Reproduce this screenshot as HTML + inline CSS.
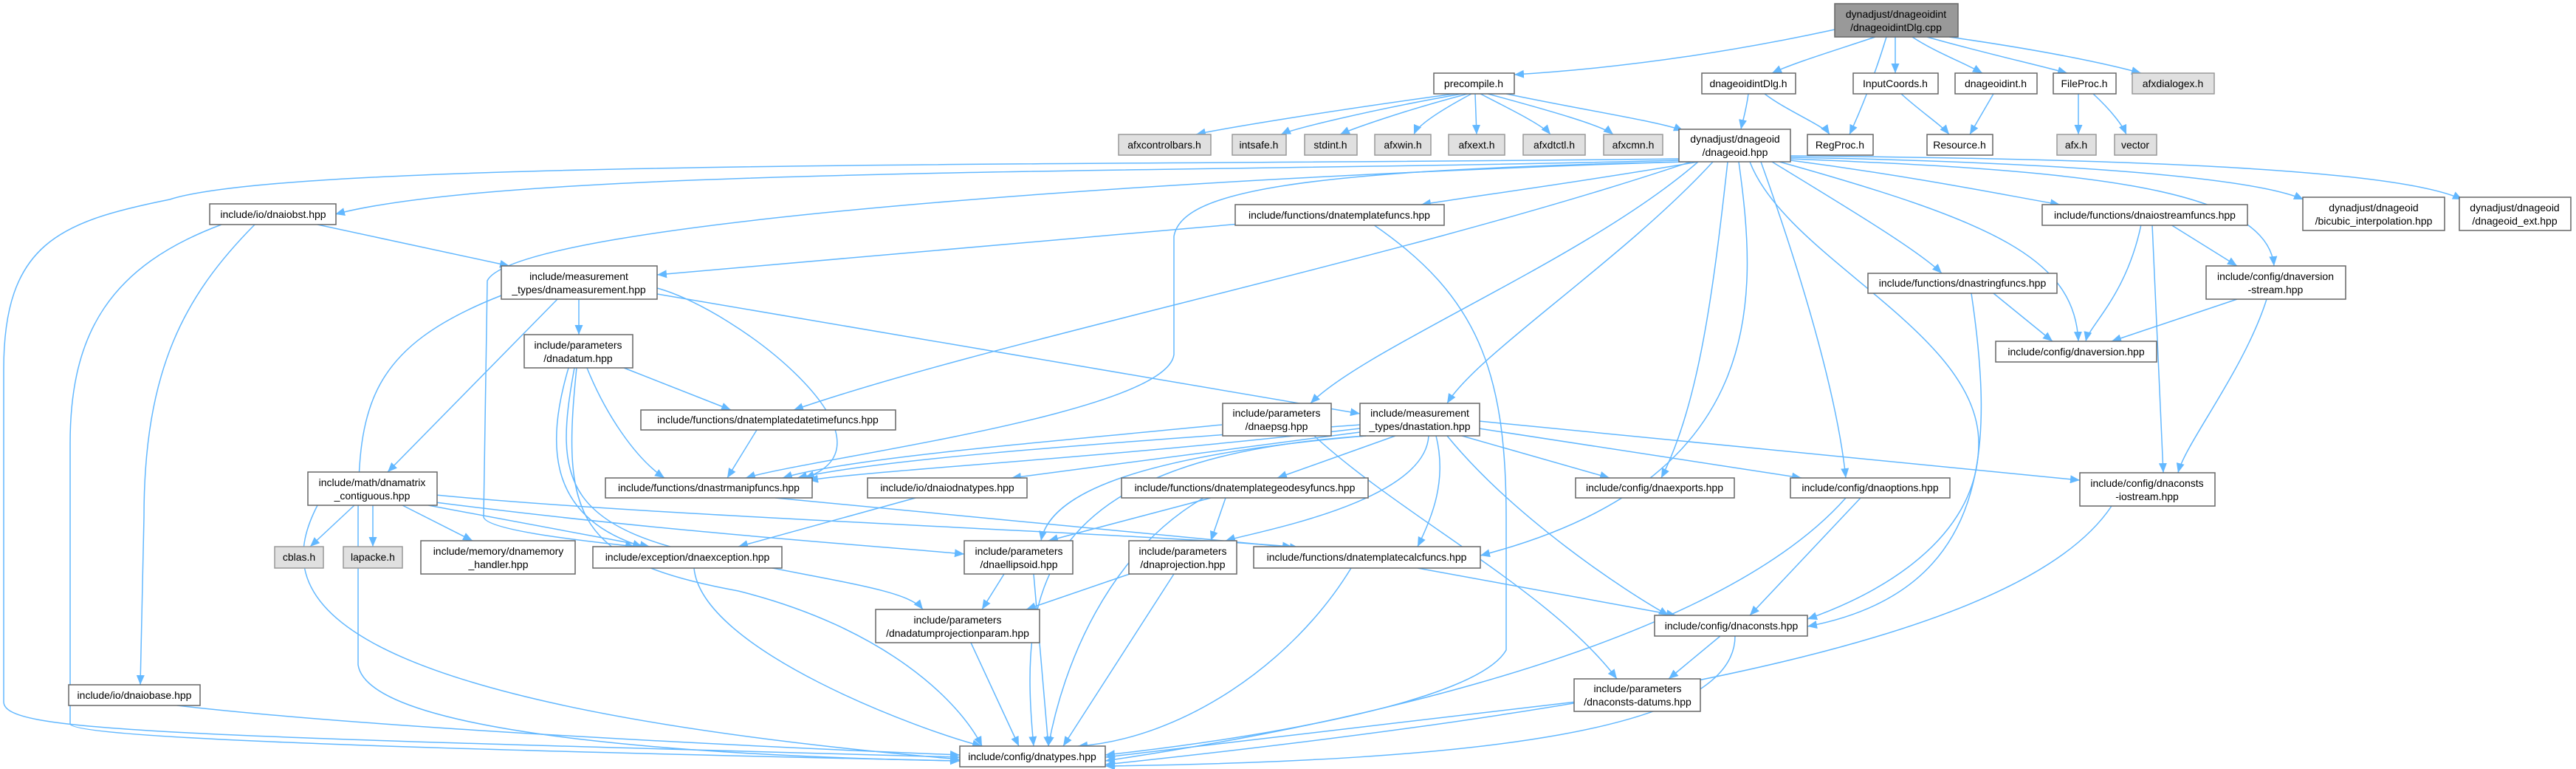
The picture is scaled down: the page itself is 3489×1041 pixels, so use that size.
<!DOCTYPE html>
<html><head><meta charset="utf-8"><style>
html,body{margin:0;padding:0;background:#fff;}
svg{display:block;}
text{font-family:"Liberation Sans",sans-serif;font-size:14px;fill:#000;text-anchor:middle;}
.n{fill:#fff;stroke:#666;stroke-width:1.5;}
.g{fill:#e0e0e0;stroke:#999;stroke-width:1.5;}
.r{fill:#999;stroke:#666;stroke-width:1.5;}
path.e{fill:none;stroke:#63b8ff;stroke-width:1.5;marker-end:url(#a);}
</style></head><body>
<svg width="3489" height="1041" viewBox="0 0 3489 1041" xmlns="http://www.w3.org/2000/svg">
<defs><marker id="a" markerUnits="userSpaceOnUse" markerWidth="14" markerHeight="11" refX="13" refY="5.5" orient="auto"><path d="M0,0 L13,5.5 L0,11 z" fill="#63b8ff"/></marker></defs>
<g>
<path class="e" d="M2485,40 C2300,80 2150,95 2051,101"/>
<path class="e" d="M2540,50 C2480,70 2430,85 2400,99"/>
<path class="e" d="M2555,50 C2540,100 2520,150 2505,182"/>
<path class="e" d="M2567,50 L2567,99"/>
<path class="e" d="M2590,50 C2620,70 2660,85 2685,99"/>
<path class="e" d="M2610,50 C2680,70 2760,88 2800,99"/>
<path class="e" d="M2640,50 C2780,70 2860,88 2900,99"/>
<path class="e" d="M1970,127 C1800,150 1650,175 1620,182"/>
<path class="e" d="M1980,127 C1850,150 1750,175 1735,182"/>
<path class="e" d="M1988,127 C1900,150 1830,175 1815,182"/>
<path class="e" d="M1993,127 C1950,150 1920,170 1915,182"/>
<path class="e" d="M1998,127 L2000,182"/>
<path class="e" d="M2005,127 C2050,150 2090,170 2100,182"/>
<path class="e" d="M2015,127 C2100,150 2170,170 2185,182"/>
<path class="e" d="M2040,127 C2150,150 2250,165 2280,177"/>
<path class="e" d="M2368,127 C2365,150 2360,165 2358,175"/>
<path class="e" d="M2390,127 C2420,150 2470,170 2478,182"/>
<path class="e" d="M2575,127 C2600,150 2630,170 2640,182"/>
<path class="e" d="M2700,127 L2668,182"/>
<path class="e" d="M2815,127 L2815,182"/>
<path class="e" d="M2835,127 C2860,150 2875,170 2880,182"/>
<path class="e" d="M2274,215 C1500,225 400,215 230,270 C80,300 5,330 5,500 L5,950 C5,990 200,995 1300,1025"/>
<path class="e" d="M2274,217 C1600,235 700,225 454,290"/>
<path class="e" d="M2300,219 C2150,245 2000,265 1925,277"/>
<path class="e" d="M2280,219 C1600,240 700,300 660,380 L655,700 C660,720 820,735 860,740"/>
<path class="e" d="M2285,219 C1750,230 1600,260 1590,320 L1590,480 C1580,560 1100,620 1010,647"/>
<path class="e" d="M2290,219 C1900,350 1350,460 1075,555"/>
<path class="e" d="M2300,219 C2150,350 1850,470 1775,546"/>
<path class="e" d="M2320,219 C2200,350 2000,480 1960,546"/>
<path class="e" d="M2340,219 C2320,400 2300,550 2250,647"/>
<path class="e" d="M2355,219 C2380,400 2400,650 2005,752"/>
<path class="e" d="M2370,219 C2420,350 2680,450 2680,600 C2680,750 2500,820 2448,838"/>
<path class="e" d="M2385,219 C2450,400 2490,550 2500,647"/>
<path class="e" d="M2400,219 C2500,280 2600,340 2630,370"/>
<path class="e" d="M2410,219 C2700,300 2810,350 2815,462"/>
<path class="e" d="M2425,217 C2600,240 2720,265 2790,277"/>
<path class="e" d="M2425,215 C2800,230 3070,250 3080,360"/>
<path class="e" d="M2425,213 C2800,220 3050,240 3120,270"/>
<path class="e" d="M2425,211 C2900,215 3250,230 3335,270"/>
<path class="e" d="M430,304 L690,360"/>
<path class="e" d="M300,304 C150,360 95,450 95,600 L95,980 C100,1000 600,1015 1300,1030"/>
<path class="e" d="M345,304 C250,400 195,500 195,700 L190,927"/>
<path class="e" d="M1680,303 L890,372"/>
<path class="e" d="M1860,304 C2000,400 2040,500 2040,700 L2040,880 C2000,950 1700,1000 1497,1022"/>
<path class="e" d="M784,405 L784,453"/>
<path class="e" d="M755,405 L525,639"/>
<path class="e" d="M679,400 C500,470 485,550 485,700 L485,900 C500,1000 1000,1025 1300,1030"/>
<path class="e" d="M890,390 C1000,420 1230,600 1090,647"/>
<path class="e" d="M890,398 L1842,560"/>
<path class="e" d="M845,498 L990,555"/>
<path class="e" d="M795,498 C820,560 860,620 900,647"/>
<path class="e" d="M770,498 C740,600 740,700 870,740"/>
<path class="e" d="M778,498 C750,650 760,720 1000,760 C1150,790 1230,800 1250,825"/>
<path class="e" d="M781,498 C760,700 780,760 1000,800 C1200,850 1300,950 1330,1010"/>
<path class="e" d="M1025,582 L985,647"/>
<path class="e" d="M1655,575 C1400,600 1150,620 1060,647"/>
<path class="e" d="M1780,590 C1900,700 2100,800 2190,919"/>
<path class="e" d="M1842,575 C1500,600 1200,620 1080,647"/>
<path class="e" d="M1842,580 C1500,620 1200,635 1095,650"/>
<path class="e" d="M1842,585 L1370,647"/>
<path class="e" d="M1890,590 L1730,647"/>
<path class="e" d="M1980,590 L2180,647"/>
<path class="e" d="M2003,580 L2440,647"/>
<path class="e" d="M2003,570 L2817,650"/>
<path class="e" d="M1850,590 C1500,620 1420,680 1410,732"/>
<path class="e" d="M1935,590 C1930,680 1700,720 1660,732"/>
<path class="e" d="M1945,590 C1960,650 1940,700 1920,740"/>
<path class="e" d="M1960,590 C2050,700 2200,800 2260,833"/>
<path class="e" d="M1850,590 C1400,620 1380,800 1400,1010"/>
<path class="e" d="M1050,674 L1760,742"/>
<path class="e" d="M1240,674 L1000,740"/>
<path class="e" d="M1640,674 L1420,732"/>
<path class="e" d="M1660,674 L1640,732"/>
<path class="e" d="M1630,674 C1500,750 1440,900 1420,1010"/>
<path class="e" d="M2520,674 L2370,833"/>
<path class="e" d="M2500,674 C2300,900 1700,1000 1497,1030"/>
<path class="e" d="M2860,685 C2750,850 2300,950 1497,1035"/>
<path class="e" d="M3030,405 L2860,462"/>
<path class="e" d="M3070,405 C3040,500 2960,600 2950,640"/>
<path class="e" d="M2900,304 C2880,400 2830,440 2825,462"/>
<path class="e" d="M2940,304 L3030,360"/>
<path class="e" d="M2915,304 L2930,640"/>
<path class="e" d="M2700,397 L2780,462"/>
<path class="e" d="M2670,397 C2700,600 2700,800 2448,848"/>
<path class="e" d="M480,684 L420,740"/>
<path class="e" d="M505,684 L505,740"/>
<path class="e" d="M545,684 L640,732"/>
<path class="e" d="M580,684 L880,740"/>
<path class="e" d="M590,670 C900,700 1500,720 1750,740"/>
<path class="e" d="M590,680 C900,720 1200,740 1306,750"/>
<path class="e" d="M430,684 C370,800 400,950 1300,1028"/>
<path class="e" d="M940,769 C950,880 1250,990 1330,1010"/>
<path class="e" d="M1360,777 L1330,825"/>
<path class="e" d="M1400,777 L1420,1010"/>
<path class="e" d="M1530,777 L1390,825"/>
<path class="e" d="M1590,777 L1440,1010"/>
<path class="e" d="M1920,769 L2270,833"/>
<path class="e" d="M1830,769 C1750,900 1600,1000 1460,1010"/>
<path class="e" d="M1315,870 L1380,1010"/>
<path class="e" d="M2330,861 L2260,919"/>
<path class="e" d="M2350,861 C2350,990 2000,1030 1497,1037"/>
<path class="e" d="M2135,950 L1497,1025"/>
<path class="e" d="M240,955 C500,985 1000,1010 1300,1022"/>
</g>
<g>
<rect class="r" x="2485" y="5" width="167" height="45"/><text x="2568" y="24">dynadjust/dnageoidint</text><text x="2568" y="42">/dnageoidintDlg.cpp</text>
<rect class="n" x="1942" y="99" width="109" height="28"/><text x="1996" y="118">precompile.h</text>
<rect class="n" x="2305" y="99" width="127" height="28"/><text x="2368" y="118">dnageoidintDlg.h</text>
<rect class="n" x="2510" y="99" width="115" height="28"/><text x="2567" y="118">InputCoords.h</text>
<rect class="n" x="2648" y="99" width="111" height="28"/><text x="2703" y="118">dnageoidint.h</text>
<rect class="n" x="2781" y="99" width="85" height="28"/><text x="2823" y="118">FileProc.h</text>
<rect class="g" x="2888" y="99" width="111" height="28"/><text x="2943" y="118">afxdialogex.h</text>
<rect class="g" x="1515" y="182" width="125" height="28"/><text x="1577" y="201">afxcontrolbars.h</text>
<rect class="g" x="1669" y="182" width="73" height="28"/><text x="1705" y="201">intsafe.h</text>
<rect class="g" x="1767" y="182" width="71" height="28"/><text x="1802" y="201">stdint.h</text>
<rect class="g" x="1862" y="182" width="76" height="28"/><text x="1900" y="201">afxwin.h</text>
<rect class="g" x="1962" y="182" width="76" height="28"/><text x="2000" y="201">afxext.h</text>
<rect class="g" x="2063" y="182" width="84" height="28"/><text x="2105" y="201">afxdtctl.h</text>
<rect class="g" x="2172" y="182" width="80" height="28"/><text x="2212" y="201">afxcmn.h</text>
<rect class="n" x="2274" y="175" width="151" height="44"/><text x="2350" y="193">dynadjust/dnageoid</text><text x="2350" y="211">/dnageoid.hpp</text>
<rect class="n" x="2448" y="182" width="89" height="28"/><text x="2492" y="201">RegProc.h</text>
<rect class="n" x="2610" y="182" width="89" height="28"/><text x="2654" y="201">Resource.h</text>
<rect class="g" x="2786" y="182" width="53" height="28"/><text x="2812" y="201">afx.h</text>
<rect class="g" x="2864" y="182" width="57" height="28"/><text x="2892" y="201">vector</text>
<rect class="n" x="284" y="276" width="171" height="28"/><text x="370" y="295">include/io/dnaiobst.hpp</text>
<rect class="n" x="1673" y="277" width="283" height="28"/><text x="1814" y="296">include/functions/dnatemplatefuncs.hpp</text>
<rect class="n" x="2766" y="277" width="278" height="28"/><text x="2905" y="296">include/functions/dnaiostreamfuncs.hpp</text>
<rect class="n" x="3119" y="267" width="192" height="45"/><text x="3215" y="286">dynadjust/dnageoid</text><text x="3215" y="304">/bicubic_interpolation.hpp</text>
<rect class="n" x="3331" y="267" width="151" height="45"/><text x="3406" y="286">dynadjust/dnageoid</text><text x="3406" y="304">/dnageoid_ext.hpp</text>
<rect class="n" x="679" y="360" width="211" height="45"/><text x="784" y="379">include/measurement</text><text x="784" y="397">_types/dnameasurement.hpp</text>
<rect class="n" x="2530" y="370" width="256" height="27"/><text x="2658" y="388">include/functions/dnastringfuncs.hpp</text>
<rect class="n" x="2988" y="360" width="189" height="45"/><text x="3082" y="379">include/config/dnaversion</text><text x="3082" y="397">-stream.hpp</text>
<rect class="n" x="2703" y="462" width="218" height="28"/><text x="2812" y="481">include/config/dnaversion.hpp</text>
<rect class="n" x="710" y="453" width="147" height="45"/><text x="783" y="472">include/parameters</text><text x="783" y="490">/dnadatum.hpp</text>
<rect class="n" x="868" y="555" width="345" height="27"/><text x="1040" y="573">include/functions/dnatemplatedatetimefuncs.hpp</text>
<rect class="n" x="1656" y="546" width="147" height="44"/><text x="1729" y="564">include/parameters</text><text x="1729" y="582">/dnaepsg.hpp</text>
<rect class="n" x="1842" y="546" width="162" height="44"/><text x="1923" y="564">include/measurement</text><text x="1923" y="582">_types/dnastation.hpp</text>
<rect class="n" x="820" y="647" width="280" height="27"/><text x="960" y="665">include/functions/dnastrmanipfuncs.hpp</text>
<rect class="n" x="1175" y="647" width="216" height="27"/><text x="1283" y="665">include/io/dnaiodnatypes.hpp</text>
<rect class="n" x="1519" y="647" width="334" height="27"/><text x="1686" y="665">include/functions/dnatemplategeodesyfuncs.hpp</text>
<rect class="n" x="2134" y="647" width="215" height="27"/><text x="2241" y="665">include/config/dnaexports.hpp</text>
<rect class="n" x="2425" y="647" width="216" height="27"/><text x="2533" y="665">include/config/dnaoptions.hpp</text>
<rect class="n" x="2817" y="640" width="183" height="45"/><text x="2908" y="659">include/config/dnaconsts</text><text x="2908" y="677">-iostream.hpp</text>
<rect class="n" x="417" y="639" width="175" height="45"/><text x="504" y="658">include/math/dnamatrix</text><text x="504" y="676">_contiguous.hpp</text>
<rect class="g" x="372" y="740" width="66" height="29"/><text x="405" y="759">cblas.h</text>
<rect class="g" x="465" y="740" width="80" height="29"/><text x="505" y="759">lapacke.h</text>
<rect class="n" x="570" y="732" width="209" height="45"/><text x="675" y="751">include/memory/dnamemory</text><text x="675" y="769">_handler.hpp</text>
<rect class="n" x="803" y="740" width="256" height="29"/><text x="931" y="759">include/exception/dnaexception.hpp</text>
<rect class="n" x="1306" y="732" width="147" height="45"/><text x="1380" y="751">include/parameters</text><text x="1380" y="769">/dnaellipsoid.hpp</text>
<rect class="n" x="1529" y="732" width="146" height="45"/><text x="1602" y="751">include/parameters</text><text x="1602" y="769">/dnaprojection.hpp</text>
<rect class="n" x="1698" y="740" width="307" height="29"/><text x="1851" y="759">include/functions/dnatemplatecalcfuncs.hpp</text>
<rect class="n" x="1186" y="825" width="222" height="45"/><text x="1297" y="844">include/parameters</text><text x="1297" y="862">/dnadatumprojectionparam.hpp</text>
<rect class="n" x="2241" y="833" width="207" height="28"/><text x="2345" y="852">include/config/dnaconsts.hpp</text>
<rect class="n" x="2132" y="919" width="171" height="44"/><text x="2218" y="937">include/parameters</text><text x="2218" y="955">/dnaconsts-datums.hpp</text>
<rect class="n" x="93" y="927" width="178" height="28"/><text x="182" y="946">include/io/dnaiobase.hpp</text>
<rect class="n" x="1300" y="1010" width="197" height="28"/><text x="1398" y="1029">include/config/dnatypes.hpp</text>
</g>
</svg>
</body></html>
